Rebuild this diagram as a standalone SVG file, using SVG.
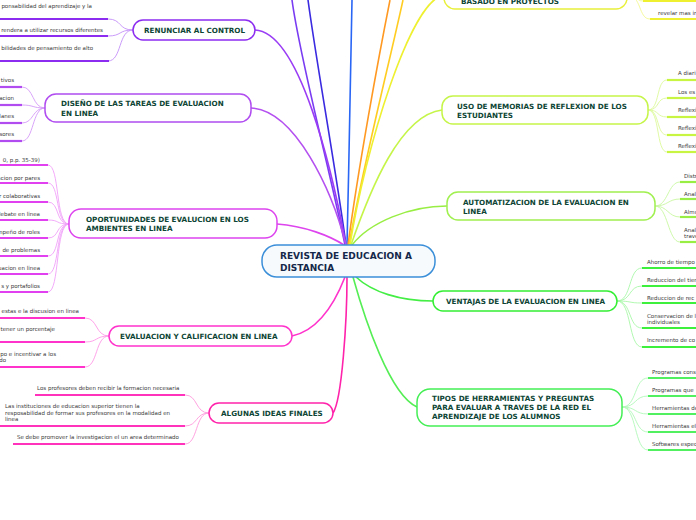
<svg xmlns="http://www.w3.org/2000/svg" width="696" height="520" viewBox="0 0 696 520">
<style>
.t{font-family:"DejaVu Sans",Verdana,sans-serif;font-weight:bold;font-size:7.2px;fill:#0d4535}
.m{font-family:"DejaVu Sans",Verdana,sans-serif;font-weight:bold;font-size:9px;fill:#14284a}
.c{font-family:"DejaVu Sans",Verdana,sans-serif;font-size:5.5px;fill:#3a3a3a}
.e{text-anchor:end}
.n{fill:#fff;stroke-width:1.5}
.u{stroke-width:2.2;fill:none}
.k{stroke-width:0.9;fill:none}
.cn path{fill:none;stroke-width:1.6}
</style>
<rect width="696" height="520" fill="#fff"/>
<g id="connectors" class="cn">
<path d="M345,245 C330,170 300,60 292,0" stroke="#7a3cf2"/>
<path d="M346,245 C336,170 316,60 308,0" stroke="#3a2ae0"/>
<path d="M347,245 C349,160 351,60 352,0" stroke="#2a66f5"/>
<path d="M348,245 C358,170 378,60 390,0" stroke="#ff9922"/>
<path d="M349,245 C362,170 390,60 403,0" stroke="#ffcc22"/>
<path d="M350,245 C365,150 410,0 444,-5" stroke="#eef030"/>
<path d="M255,30 C300,32 332,170 346,245" stroke="#9a3cf5"/>
<path d="M251,108 C295,110 332,190 346,245" stroke="#b450f0"/>
<path d="M277,224 C305,226 330,236 344,245" stroke="#dd44ee"/>
<path d="M292,336 C320,330 336,300 345,277" stroke="#ff33cc"/>
<path d="M333,413 C342,400 347,320 347,277" stroke="#ff22aa"/>
<path d="M417,407 C390,395 365,320 353,277" stroke="#55ee55"/>
<path d="M433,301 C400,301 372,292 356,277" stroke="#44ee44"/>
<path d="M447,206 C410,206 370,222 352,245" stroke="#99ee44"/>
<path d="M442,110 C400,115 370,190 351,245" stroke="#c6f54a"/>
</g>

<g id="central">
<rect x="262" y="245" width="173" height="32" rx="15" fill="#f6fafd" stroke="#3b8fd9" stroke-width="1.5"/>
<text class="m" x="280" y="259">REVISTA DE EDUCACION A</text>
<text class="m" x="280" y="271">DISTANCIA</text>
</g>

<g id="renunciar">
<g stroke="#c490f8" class="k">
<path d="M133,30 C118,30 122,19 108,19"/>
<path d="M133,30 C118,30 122,36 108,36"/>
<path d="M133,30 C118,30 122,61 108,61"/>
</g>
<g stroke="#8b2cf0" class="u">
<path d="M0,19 H108"/><path d="M0,36 H108"/><path d="M0,61 H109"/>
</g>
<text class="c e" x="92" y="8">ponsabilidad del aprendizaje y la</text>
<text class="c e" x="103" y="32">rendera a utilizar recursos diferentes</text>
<text class="c e" x="93" y="50">bilidades de pensamiento de alto</text>
<rect class="n" x="133" y="20" width="122" height="20" rx="10" stroke="#8b2cf0"/>
<text class="t" x="144" y="33">RENUNCIAR AL CONTROL</text>
</g>

<g id="diseno">
<g stroke="#d59af8" class="k">
<path d="M45,108 C32,108 34,87 22,87"/>
<path d="M45,108 C32,108 34,105 22,105"/>
<path d="M45,108 C32,108 34,123 22,123"/>
<path d="M45,108 C32,108 34,141 22,141"/>
</g>
<g stroke="#b04cf0" class="u">
<path d="M0,87 H22"/><path d="M0,105 H22"/><path d="M0,123 H22"/><path d="M0,141 H22"/>
</g>
<text class="c e" x="14" y="82">tivos</text>
<text class="c e" x="14" y="100">acion</text>
<text class="c e" x="14" y="118">lanes</text>
<text class="c e" x="14" y="136">sores</text>
<rect class="n" x="45" y="94" width="206" height="28" rx="11" stroke="#b04cf0"/>
<text class="t" x="61" y="106">DISEÑO DE LAS TAREAS DE EVALUACION</text>
<text class="t" x="61" y="116">EN LINEA</text>
</g>

<g id="oportunidades">
<g stroke="#f0a0f8" class="k">
<path d="M69,224 C55,224 60,165 48,165"/>
<path d="M69,224 C55,224 60,183 48,183"/>
<path d="M69,224 C55,224 60,202 48,202"/>
<path d="M69,224 C55,224 60,220 48,220"/>
<path d="M69,224 C55,224 60,238 48,238"/>
<path d="M69,224 C55,224 60,256 48,256"/>
<path d="M69,224 C55,224 60,274 48,274"/>
<path d="M69,224 C55,224 60,292 48,292"/>
</g>
<g stroke="#e040f0" class="u">
<path d="M0,165 H48"/><path d="M0,183 H48"/><path d="M0,202 H48"/><path d="M0,220 H48"/>
<path d="M0,238 H48"/><path d="M0,256 H48"/><path d="M0,274 H48"/><path d="M0,292 H48"/>
</g>
<text class="c e" x="40" y="162">0, p.p. 35-39)</text>
<text class="c e" x="40" y="180">acion por pares</text>
<text class="c e" x="40" y="198">r colaborativas</text>
<text class="c e" x="40" y="216">lebate en linea</text>
<text class="c e" x="40" y="234">mpeño de roles</text>
<text class="c e" x="40" y="252">de problemas</text>
<text class="c e" x="40" y="270">uacion en linea</text>
<text class="c e" x="40" y="288">s y portafolios</text>
<rect class="n" x="69" y="209" width="208" height="29" rx="12" stroke="#dd44ee"/>
<text class="t" x="86" y="222">OPORTUNIDADES DE EVALUCION EN LOS</text>
<text class="t" x="86" y="231">AMBIENTES EN LINEA</text>
</g>

<g id="evaluacion">
<g stroke="#ff99e6" class="k">
<path d="M109,336 C95,336 98,318 85,318"/>
<path d="M109,336 C95,336 98,342 85,342"/>
<path d="M109,336 C95,336 98,367 85,367"/>
</g>
<g stroke="#ff33cc" class="u">
<path d="M0,318 H85"/><path d="M0,342 H85"/><path d="M0,367 H85"/>
</g>
<text class="c e" x="79" y="313">estas e la discusion en linea</text>
<text class="c e" x="55" y="331">tener un porcentaje</text>
<text class="c e" x="56" y="356">po e incentivar a los</text>
<text class="c e" x="6" y="362">do</text>
<rect class="n" x="109" y="326" width="183" height="20" rx="10" stroke="#ff33cc"/>
<text class="t" x="120" y="339">EVALUACION Y CALIFICACION EN LINEA</text>
</g>

<g id="algunas">
<g stroke="#ff99dd" class="k">
<path d="M209,413 C195,413 198,395 185,395"/>
<path d="M209,413 C195,413 198,426 185,426"/>
<path d="M209,413 C195,413 198,444 185,444"/>
</g>
<g stroke="#ff33bb" class="u">
<path d="M35,395 H185"/><path d="M0,426 H185"/><path d="M13,444 H185"/>
</g>
<text class="c" x="37" y="390">Los profesores deben recibir la formacion necesaria</text>
<text class="c" x="5" y="408">Las instituciones de educacion superior tienen la</text>
<text class="c" x="5" y="414.5">resposabilidad de formar sus profesores en la modalidad en</text>
<text class="c" x="5" y="421">linea</text>
<text class="c" x="17" y="439">Se debe promover la investigacion el un area determinado</text>
<rect class="n" x="209" y="403" width="124" height="20" rx="10" stroke="#ff22aa"/>
<text class="t" x="221" y="416">ALGUNAS IDEAS FINALES</text>
</g>

<g id="basado">
<g stroke="#f4f890" class="k">
<path d="M627,-5 C640,-5 635,1 643,1"/>
<path d="M627,-5 C642,-5 638,19 650,19"/>
</g>
<g stroke="#eef030" class="u">
<path d="M643,1 H696"/><path d="M650,19 H696"/>
</g>
<text class="c" x="658" y="15">revelar mas ir</text>
<rect class="n" x="444" y="-20" width="183" height="29" rx="11" stroke="#e8f03a"/>
<text class="t" x="461" y="3.5">BASADO EN PROYECTOS</text>
</g>

<g id="uso">
<g stroke="#ddf99a" class="k">
<path d="M648,110 C660,110 656,80 667,80"/>
<path d="M648,110 C660,110 656,98 667,98"/>
<path d="M648,110 C660,110 656,117 667,117"/>
<path d="M648,110 C660,110 656,135 667,135"/>
<path d="M648,110 C660,110 656,152 667,152"/>
</g>
<g stroke="#c8f542" class="u">
<path d="M667,80 H696"/><path d="M667,98 H696"/><path d="M667,117 H696"/><path d="M667,135 H696"/><path d="M667,152 H696"/>
</g>
<text class="c" x="678" y="75">A diari</text>
<text class="c" x="678" y="94">Los es</text>
<text class="c" x="678" y="112">Reflexi</text>
<text class="c" x="678" y="130">Reflexi</text>
<text class="c" x="678" y="148">Reflexi</text>
<rect class="n" x="442" y="96" width="206" height="28" rx="11" stroke="#c6f54a"/>
<text class="t" x="457" y="109">USO DE MEMORIAS DE REFLEXION DE LOS</text>
<text class="t" x="457" y="118">ESTUDIANTES</text>
</g>

<g id="automatizacion">
<g stroke="#c8f7a0" class="k">
<path d="M655,206 C668,206 668,182 680,182"/>
<path d="M655,206 C668,206 668,199 680,199"/>
<path d="M655,206 C668,206 668,217 680,217"/>
<path d="M655,206 C668,206 668,242 680,242"/>
</g>
<g stroke="#99ee44" class="u">
<path d="M680,182 H696"/><path d="M680,199 H696"/><path d="M680,217 H696"/><path d="M680,242 H696"/>
</g>
<text class="c" x="684" y="178">Distr</text>
<text class="c" x="684" y="196">Anal</text>
<text class="c" x="684" y="214">Almu</text>
<text class="c" x="684" y="232">Anal</text>
<text class="c" x="684" y="238">trave</text>
<rect class="n" x="447" y="192" width="208" height="28" rx="11" stroke="#a0f050"/>
<text class="t" x="463" y="205">AUTOMATIZACION DE LA EVALUACION EN</text>
<text class="t" x="463" y="214">LINEA</text>
</g>

<g id="ventajas">
<g stroke="#a8f7a8" class="k">
<path d="M617,301 C632,301 628,268 642,268"/>
<path d="M617,301 C632,301 628,286 642,286"/>
<path d="M617,301 C632,301 628,303 642,303"/>
<path d="M617,301 C632,301 628,328 642,328"/>
<path d="M617,301 C632,301 628,347 642,347"/>
</g>
<g stroke="#3cf03c" class="u">
<path d="M642,268 H696"/><path d="M642,286 H696"/><path d="M642,303 H696"/><path d="M642,328 H696"/><path d="M642,347 H696"/>
</g>
<text class="c" x="647" y="264">Ahorro de tiempo</text>
<text class="c" x="647" y="282">Reduccion del tiem</text>
<text class="c" x="647" y="300">Reduccion de  rec</text>
<text class="c" x="647" y="318">Conservacion de l</text>
<text class="c" x="647" y="324">individuales</text>
<text class="c" x="647" y="342">Incremento de co</text>
<rect class="n" x="433" y="291" width="184" height="20" rx="10" stroke="#33ee33"/>
<text class="t" x="446" y="304">VENTAJAS DE LA EVALUACION EN LINEA</text>
</g>

<g id="tipos">
<g stroke="#b0f8b8" class="k">
<path d="M622,407 C637,407 634,378 648,378"/>
<path d="M622,407 C637,407 634,396 648,396"/>
<path d="M622,407 C637,407 634,414 648,414"/>
<path d="M622,407 C637,407 634,432 648,432"/>
<path d="M622,407 C637,407 634,450 648,450"/>
</g>
<g stroke="#50f060" class="u">
<path d="M648,378 H696"/><path d="M648,396 H696"/><path d="M648,414 H696"/><path d="M648,432 H696"/><path d="M648,450 H696"/>
</g>
<text class="c" x="652" y="374">Programas cons</text>
<text class="c" x="652" y="392">Programas que</text>
<text class="c" x="652" y="410">Herramientas de</text>
<text class="c" x="652" y="428">Herramientas el</text>
<text class="c" x="652" y="446">Softwares espec</text>
<rect class="n" x="417" y="389" width="205" height="37" rx="13" stroke="#44ee55"/>
<text class="t" x="432" y="401">TIPOS DE HERRAMIENTAS Y PREGUNTAS</text>
<text class="t" x="432" y="410">PARA EVALUAR A TRAVES DE  LA RED EL</text>
<text class="t" x="432" y="419">APRENDIZAJE DE LOS ALUMNOS</text>
</g>
</svg>
